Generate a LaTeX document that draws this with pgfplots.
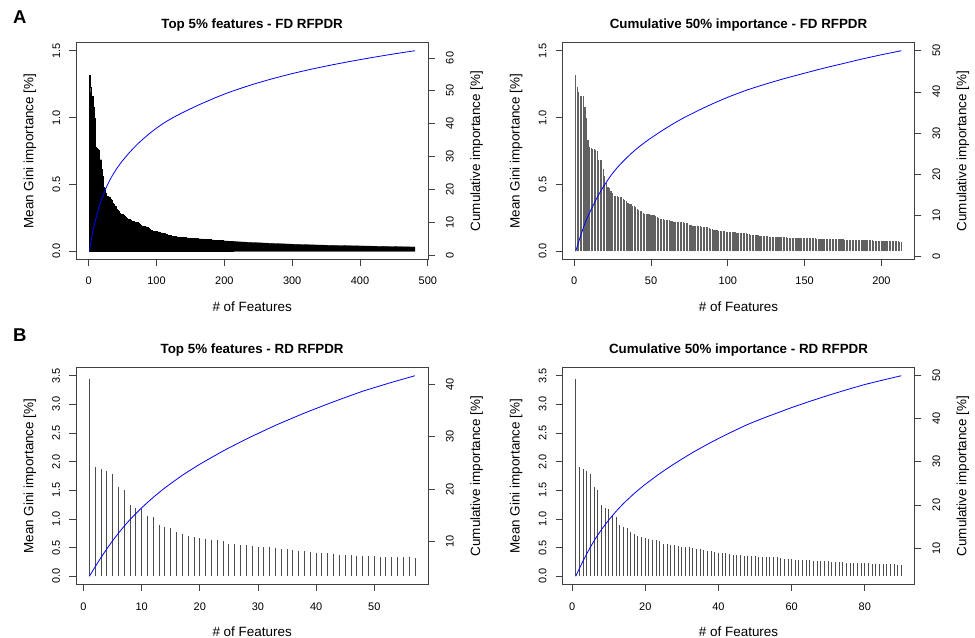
\documentclass[border=0pt]{standalone}
\usepackage{fontspec}
\setmainfont{Liberation Sans}
\usepackage{pgfplots}
\usepackage{pgfplotstable}
\pgfplotsset{compat=1.18}

% ranked mean Gini importance, FD RFPDR (first 213 features)
\pgfplotstableread[row sep=\\]{
x y\\
1 1.315\\ 2 1.226\\ 3 1.19\\ 4 1.163\\ 5 1.158\\ 6 1.158\\ 7 1.076\\ 8 0.997\\ 9 0.835\\ 10 0.78\\
11 0.772\\ 12 0.767\\ 13 0.767\\ 14 0.76\\ 15 0.747\\ 16 0.685\\ 17 0.685\\ 18 0.685\\ 19 0.615\\ 20 0.56\\
21 0.51\\ 22 0.48\\ 23 0.473\\ 24 0.448\\ 25 0.436\\ 26 0.416\\ 27 0.411\\ 28 0.411\\ 29 0.406\\ 30 0.406\\
31 0.404\\ 32 0.39\\ 33 0.386\\ 34 0.374\\ 35 0.361\\ 36 0.354\\ 37 0.354\\ 38 0.341\\ 39 0.336\\ 40 0.329\\
41 0.316\\ 42 0.306\\ 43 0.299\\ 44 0.299\\ 45 0.286\\ 46 0.279\\ 47 0.279\\ 48 0.277\\ 49 0.277\\ 50 0.274\\
51 0.269\\ 52 0.269\\ 53 0.262\\ 54 0.257\\ 55 0.249\\ 56 0.244\\ 57 0.242\\ 58 0.242\\ 59 0.237\\ 60 0.237\\
61 0.232\\ 62 0.232\\ 63 0.227\\ 64 0.224\\ 65 0.222\\ 66 0.222\\ 67 0.219\\ 68 0.219\\ 69 0.217\\ 70 0.217\\
71 0.216\\ 72 0.215\\ 73 0.212\\ 74 0.212\\ 75 0.200\\ 76 0.198\\ 77 0.192\\ 78 0.190\\ 79 0.190\\ 80 0.188\\
81 0.187\\ 82 0.186\\ 83 0.185\\ 84 0.184\\ 85 0.182\\ 86 0.181\\ 87 0.178\\ 88 0.172\\ 89 0.167\\ 90 0.163\\
91 0.160\\ 92 0.158\\ 93 0.157\\ 94 0.153\\ 95 0.150\\ 96 0.149\\ 97 0.148\\ 98 0.148\\ 99 0.147\\ 100 0.147\\
101 0.146\\ 102 0.146\\ 103 0.145\\ 104 0.145\\ 105 0.142\\ 106 0.139\\ 107 0.138\\ 108 0.137\\ 109 0.136\\ 110 0.135\\
111 0.134\\ 112 0.133\\ 113 0.130\\ 114 0.126\\ 115 0.124\\ 116 0.122\\ 117 0.121\\ 118 0.120\\ 119 0.119\\ 120 0.118\\
121 0.117\\ 122 0.115\\ 123 0.113\\ 124 0.112\\ 125 0.111\\ 126 0.111\\ 127 0.110\\ 128 0.110\\ 129 0.109\\ 130 0.108\\
131 0.107\\ 132 0.106\\ 133 0.106\\ 134 0.105\\ 135 0.105\\ 136 0.104\\ 137 0.104\\ 138 0.104\\ 139 0.103\\ 140 0.103\\
141 0.102\\ 142 0.102\\ 143 0.102\\ 144 0.101\\ 145 0.101\\ 146 0.100\\ 147 0.100\\ 148 0.099\\ 149 0.099\\ 150 0.099\\
151 0.098\\ 152 0.098\\ 153 0.097\\ 154 0.097\\ 155 0.097\\ 156 0.096\\ 157 0.096\\ 158 0.095\\ 159 0.095\\ 160 0.095\\
161 0.094\\ 162 0.094\\ 163 0.093\\ 164 0.093\\ 165 0.093\\ 166 0.092\\ 167 0.092\\ 168 0.091\\ 169 0.091\\ 170 0.091\\
171 0.090\\ 172 0.090\\ 173 0.089\\ 174 0.089\\ 175 0.089\\ 176 0.088\\ 177 0.088\\ 178 0.087\\ 179 0.087\\ 180 0.086\\
181 0.086\\ 182 0.086\\ 183 0.085\\ 184 0.085\\ 185 0.084\\ 186 0.084\\ 187 0.084\\ 188 0.083\\ 189 0.083\\ 190 0.082\\
191 0.082\\ 192 0.082\\ 193 0.081\\ 194 0.081\\ 195 0.080\\ 196 0.080\\ 197 0.080\\ 198 0.079\\ 199 0.079\\ 200 0.079\\
201 0.078\\ 202 0.078\\ 203 0.077\\ 204 0.077\\ 205 0.077\\ 206 0.076\\ 207 0.076\\ 208 0.075\\ 209 0.075\\ 210 0.074\\
211 0.074\\ 212 0.073\\ 213 0.073\\
}\fdimp

% envelope of the dense tail, FD RFPDR (features 213-481)
\pgfplotstableread[row sep=\\]{
x y\\
213 0.073\\ 240 0.066\\ 270 0.059\\ 300 0.053\\ 330 0.048\\ 360 0.044\\
390 0.041\\ 420 0.038\\ 450 0.035\\ 481 0.032\\
}\fdtail

% cumulative importance, FD RFPDR
\pgfplotstableread[row sep=\\]{
x y\\
1 1.3\\ 2 2.5\\ 3 3.7\\ 4 4.85\\ 5 5.95\\ 6 7.05\\ 7 8.05\\ 8 9.0\\ 10 10.65\\ 12 12.15\\
15 14.4\\ 18 16.35\\ 20 17.55\\ 24 19.75\\ 28 21.6\\ 32 23.2\\ 37 25.0\\ 42 26.6\\ 48 28.3\\
55 30.05\\ 60 31.25\\ 66 32.6\\ 72 33.85\\ 80 35.35\\ 90 37.1\\ 100 38.7\\ 112 40.4\\ 125 41.95\\
137 43.25\\ 150 44.55\\ 162 45.72\\ 175 46.88\\ 187 47.95\\ 200 49.02\\ 213 50.0\\
240 51.85\\ 270 53.65\\ 300 55.25\\ 330 56.67\\ 360 57.95\\ 390 59.12\\ 420 60.21\\ 450 61.23\\ 481 62.2\\
}\fdcum

% ranked mean Gini importance, RD RFPDR (first 90 features)
\pgfplotstableread[row sep=\\]{
x y\\
1 3.45\\ 2 1.90\\ 3 1.875\\ 4 1.84\\ 5 1.79\\ 6 1.555\\ 7 1.51\\ 8 1.25\\ 9 1.195\\ 10 1.18\\
11 1.045\\ 12 1.03\\ 13 0.89\\ 14 0.855\\ 15 0.84\\ 16 0.77\\ 17 0.745\\ 18 0.71\\ 19 0.69\\ 20 0.675\\
21 0.655\\ 22 0.64\\ 23 0.625\\ 24 0.61\\ 25 0.57\\ 26 0.56\\ 27 0.55\\ 28 0.54\\ 29 0.535\\ 30 0.515\\
31 0.51\\ 32 0.505\\ 33 0.49\\ 34 0.475\\ 35 0.47\\ 36 0.46\\ 37 0.44\\ 38 0.435\\ 39 0.425\\ 40 0.41\\
41 0.405\\ 42 0.40\\ 43 0.39\\ 44 0.375\\ 45 0.375\\ 46 0.37\\ 47 0.36\\ 48 0.36\\ 49 0.355\\ 50 0.35\\
51 0.345\\ 52 0.345\\ 53 0.34\\ 54 0.34\\ 55 0.33\\ 56 0.33\\ 57 0.32\\ 58 0.31\\ 59 0.30\\ 60 0.30\\
61 0.29\\ 62 0.29\\ 63 0.28\\ 64 0.28\\ 65 0.28\\ 66 0.27\\ 67 0.27\\ 68 0.27\\ 69 0.26\\ 70 0.26\\
71 0.25\\ 72 0.25\\ 73 0.25\\ 74 0.25\\ 75 0.24\\ 76 0.24\\ 77 0.24\\ 78 0.23\\ 79 0.23\\ 80 0.23\\
81 0.23\\ 82 0.22\\ 83 0.22\\ 84 0.22\\ 85 0.21\\ 86 0.21\\ 87 0.21\\ 88 0.21\\ 89 0.20\\ 90 0.20\\
}\rdimp

% cumulative importance, RD RFPDR
\pgfplotstableread[row sep=\\]{
x y\\
1 3.45\\ 2 5.25\\ 3 7.0\\ 4 8.65\\ 5 10.2\\ 6 11.65\\ 7 13.0\\ 8 14.25\\ 10 16.49\\ 12 18.49\\
14 20.29\\ 17 22.69\\ 20 24.79\\ 24 27.31\\ 28 29.59\\ 33 32.19\\ 38 34.54\\ 43 36.69\\ 48 38.69\\
53 40.39\\ 57 41.65\\ 60 42.6\\ 65 44.05\\ 70 45.43\\ 75 46.73\\ 80 47.95\\ 85 49.0\\ 90 50.0\\
}\rdcum

\pgfplotsset{
  rbox/.style={scale only axis, width=351.7bp, height=216.6bp, anchor=south west,
    axis line style={black!75, line width=0.8bp},
    tick align=outside, major tick length=7bp,
    tick style={black!75, line width=0.8bp},
    ticklabel style={font=\fontsize{11}{13}\selectfont},
    /pgf/number format/assume math mode=true,
    label style={font=\fontsize{13.5}{16}\selectfont},
    title style={font=\bfseries\fontsize{13.4}{16}\selectfont,
      at={(axis description cs:0.5,1.0388)}, anchor=base}},
  rmain/.style={rbox, xtick pos=bottom, ytick pos=left,
    yticklabel style={rotate=90, anchor=base,
      /pgf/number format/fixed, /pgf/number format/fixed zerofill,
      /pgf/number format/precision=1},
    xticklabel style={anchor=base},
    xticklabel shift=18.7bp, yticklabel shift=9.3bp,
    xlabel={\# of Features}, ylabel={Mean Gini importance [\%]},
    xlabel style={at={(axis description cs:0.5,-0.2429)}, anchor=base},
    ylabel style={at={(axis description cs:-0.1223,0.5)}, anchor=base}},
  rsec/.style={rbox, axis x line=none, axis y line*=right, ytick pos=right,
    yticklabel style={rotate=90, anchor=base},
    yticklabel shift=18.6bp,
    ylabel={Cumulative importance [\%]},
    ylabel style={at={(axis description cs:1.148,0.5)}, anchor=base}},
}

\begin{document}
\begin{tikzpicture}
\path[use as bounding box] (0,0) rectangle (975bp,638bp);

\node[anchor=base west, inner sep=0, font=\bfseries\fontsize{18.6}{20}\selectfont] at (13bp,614.7bp) {A};
\node[anchor=base west, inner sep=0, font=\bfseries\fontsize{18.6}{20}\selectfont] at (13bp,296.3bp) {B};

% ---- A left: top 5% features, FD
\begin{axis}[rmain, at={(76.3bp,378.7bp)},
  title={Top 5\% features - FD RFPDR},
  xmin=-18.2, xmax=500.2, ymin=-0.06, ymax=1.56,
  xtick={0,100,...,500}, ytick={0,0.5,1,1.5}]
\addplot[fill=black, draw=black, line width=0.3bp, const plot] table {\fdimp} \closedcycle;
\addplot[fill=black, draw=black, line width=0.3bp] table {\fdtail} \closedcycle;
\end{axis}
\begin{axis}[rsec, at={(76.3bp,378.7bp)},
  xmin=-18.2, xmax=500.2, ymin=-1.136, ymax=64.636, ytick={0,10,...,60}]
\addplot[blue, line width=0.8bp, smooth, tension=0.3] table {\fdcum};
\end{axis}

% ---- A right: cumulative 50%, FD
\begin{axis}[rmain, at={(562.7bp,378.7bp)},
  title={Cumulative 50\% importance - FD RFPDR},
  xmin=-7.48, xmax=221.48, ymin=-0.06, ymax=1.56,
  xtick={0,50,...,200}, ytick={0,0.5,1,1.5}]
\addplot[ycomb, black!62, line width=1.15bp] table {\fdimp};
\end{axis}
\begin{axis}[rsec, at={(562.7bp,378.7bp)},
  xmin=-7.48, xmax=221.48, ymin=-0.65, ymax=51.95, ytick={0,10,...,50}]
\addplot[blue, line width=0.8bp, smooth, tension=0.3, restrict x to domain=1:213] table {\fdcum};
\end{axis}

% ---- B left: top 5% features, RD
\begin{axis}[rmain, at={(76.3bp,53.7bp)},
  title={Top 5\% features - RD RFPDR},
  xmin=-1.24, xmax=59.24, ymin=-0.14, ymax=3.64,
  xtick={0,10,...,50}, ytick={0,0.5,...,3.5}]
\addplot[ycomb, black!70, line width=0.9bp, restrict x to domain=1:57] table {\rdimp};
\end{axis}
\begin{axis}[rsec, at={(76.3bp,53.7bp)},
  xmin=-1.24, xmax=59.24, ymin=1.92, ymax=43.18, ytick={10,20,...,40}]
\addplot[blue, line width=0.8bp, smooth, tension=0.3, restrict x to domain=1:57] table {\rdcum};
\end{axis}

% ---- B right: cumulative 50%, RD
\begin{axis}[rmain, at={(562.7bp,53.7bp)},
  title={Cumulative 50\% importance - RD RFPDR},
  xmin=-2.56, xmax=93.56, ymin=-0.14, ymax=3.64,
  xtick={0,20,...,80}, ytick={0,0.5,...,3.5}]
\addplot[ycomb, black!70, line width=0.9bp] table {\rdimp};
\end{axis}
\begin{axis}[rsec, at={(562.7bp,53.7bp)},
  xmin=-2.56, xmax=93.56, ymin=1.59, ymax=51.86, ytick={10,20,...,50}]
\addplot[blue, line width=0.8bp, smooth, tension=0.3] table {\rdcum};
\end{axis}
\end{tikzpicture}
\end{document}
